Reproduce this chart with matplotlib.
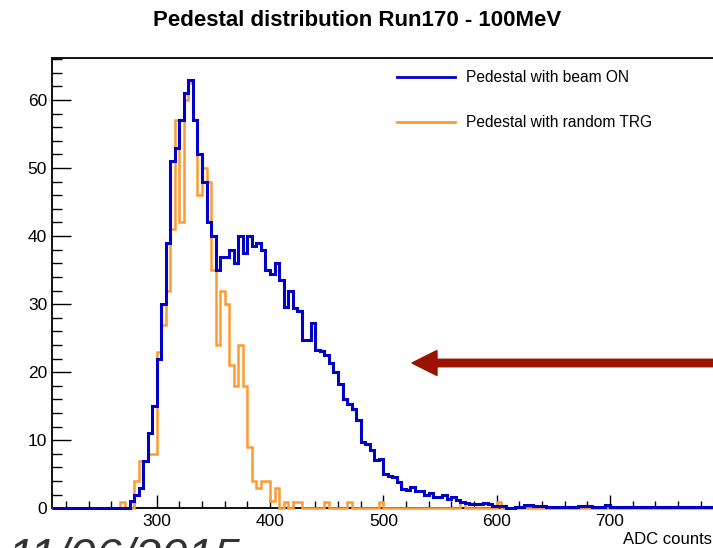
import numpy as np
import matplotlib
matplotlib.use("Agg")
import matplotlib.pyplot as plt
from matplotlib.ticker import MultipleLocator
from matplotlib.patches import FancyArrow
from matplotlib.transforms import IdentityTransform

plt.rcParams['font.family'] = ['Liberation Sans', 'DejaVu Sans']

# ---- data ----
BIN_WIDTH = 4
HIST_LO, HIST_HI = 208, 800

blue_start = 276
blue_values = [1, 2, 3, 7, 11, 15, 22, 30, 39, 51, 53, 57, 61, 63, 57, 52, 48, 42, 40, 35,
               37, 37, 38, 36, 40, 37.5, 40, 38.5, 39, 38, 35, 34.5, 36, 33.5, 29.6, 32, 29.5, 29,
               24.7, 24.8, 27.3, 23.2, 23.1, 22.5, 21.3, 20, 18.3, 16, 15.3, 14.6, 13, 9.7, 9.5,
               8.5, 7.1, 7.2, 5.1, 4.8, 4.6, 3.8, 2.9, 2.7, 3.2, 2.6, 2.5, 1.9, 2.2, 1.7, 1.7, 1.9,
               1.3, 1.6, 1.2, 0.9, 0.8, 0.6, 0.6, 0.7, 0.8, 0.6, 0.3, 0.4, 0.3, 0.1, 0.1, 0.15,
               0.2, 0.5, 0.45, 0.4, 0.35, 0.3, 0.15, 0.15, 0.15, 0.15, 0.15, 0.15, 0.15, 0.3, 0.3,
               0.35, 0.15, 0.15, 0.15, 0.45, 0.15, 0.15, 0.15, 0.15, 0.15, 0.15, 0.15, 0.15, 0.15,
               0.15, 0.15, 0.15, 0.15, 0.15, 0.15, 0.15, 0.15, 0.15, 0.15, 0.15, 0.15, 0.15, 0.15,
               0.15, 0.15, 0.15, 0.15]

orange_start = 268
orange_values = [0.9, 0, 0, 4, 7, 7, 8, 8, 23, 27, 32, 41, 57, 42, 60, 62.5, 57, 46, 50, 48,
                 35, 24, 32, 30, 21, 18, 24, 18, 9, 4, 3, 4, 4, 1, 3, 0, 0.9, 0, 0.9, 0.9,
                 0, 0, 0, 0, 0, 0.9, 0, 0, 0, 0, 0.9, 0, 0, 0, 0, 0, 0, 0.9, 0, 0,
                 0, 0, 0, 0, 0, 0, 0, 0, 0, 0, 0, 0, 0, 0, 0, 0.9, 0, 0, 0, 0,
                 0, 0, 0, 0.9]

x_ticks = [300, 400, 500, 600, 700]
legend_labels = ["Pedestal with beam ON", "Pedestal with random TRG"]
title = "Pedestal distribution Run170 - 100MeV"
xlabel = "ADC counts"
date_text = "11/06/2015"

BLUE = "#0000c8"
ORANGE = "#ff9a33"


def full_hist(start, vals):
    edges = np.arange(HIST_LO, HIST_HI + BIN_WIDTH, BIN_WIDTH)
    full = np.zeros(len(edges) - 1)
    i0 = (start - HIST_LO) // BIN_WIDTH
    n = min(len(vals), len(full) - i0)
    full[i0:i0 + n] = vals[:n]
    return edges, full


W, H = 713, 548
fig = plt.figure(figsize=(W / 100, H / 100), dpi=100)
ax_left, ax_right, ax_top, ax_bot = 52, 720, 58, 508.3
ax = fig.add_axes([ax_left / W, 1 - ax_bot / H, (ax_right - ax_left) / W, (ax_bot - ax_top) / H])

px_per_unit = 113.3 / 100
x0 = 300 - (156.7 - ax_left) / px_per_unit
x1 = 300 + (ax_right - 156.7) / px_per_unit
ax.set_xlim(x0, x1)
ax.set_ylim(0, (ax_bot - ax_top) / 6.805)

e_o, v_o = full_hist(orange_start, orange_values)
e_b, v_b = full_hist(blue_start, blue_values)
ax.stairs(v_o, e_o, color=ORANGE, lw=1.8, baseline=None, label=legend_labels[1],
          zorder=3, clip_on=False)
ax.stairs(v_b, e_b, color=BLUE, lw=2.2, baseline=None, label=legend_labels[0],
          zorder=4, clip_on=False)

ax.xaxis.set_major_locator(MultipleLocator(100))
ax.xaxis.set_minor_locator(MultipleLocator(20))
ax.yaxis.set_major_locator(MultipleLocator(10))
ax.yaxis.set_minor_locator(MultipleLocator(2))
ax.tick_params(axis='both', which='both', direction='in', top=False, right=False,
               labelsize=12.5, colors='black', width=1.0)
ax.tick_params(axis='y', which='major', length=14, pad=3.5)
ax.tick_params(axis='y', which='minor', length=7)
ax.tick_params(axis='x', which='major', length=9.5, pad=4)
ax.tick_params(axis='x', which='minor', length=5)
for s in ['left', 'bottom', 'top']:
    ax.spines[s].set_linewidth(1.4)
    ax.spines[s].set_color('#111111')
ax.spines['right'].set_visible(False)

# legend
handles, labels = ax.get_legend_handles_labels()
order = [labels.index(l) for l in legend_labels]
leg = ax.legend([handles[i] for i in order], [labels[i] for i in order],
                loc='upper left', bbox_to_anchor=(397 / W, 1 - 70 / H),
                bbox_transform=fig.transFigure, frameon=False, fontsize=11.2,
                handlelength=3.7, handletextpad=0.75, labelspacing=1.95,
                borderpad=0, borderaxespad=0)
for line in leg.get_lines():
    line.set_linewidth(2.0)

fig.text(357 / W, 1 - 21 / H, title, ha='center', va='center', fontsize=16, fontweight='bold')
fig.text(712 / W, 1 - 540 / H, xlabel, ha='right', va='center', fontsize=12)
fig.text(8 / W, (H - 571) / H, date_text, ha='left', va='baseline', fontsize=34,
         style='italic', color='#333333')

arrow = FancyArrow(730, H - 363, 412 - 730, 0, width=7.5, head_width=25, head_length=25,
                   length_includes_head=True, color='#9a1200', transform=IdentityTransform())
fig.add_artist(arrow)

fig.savefig("out.png", dpi=100)
